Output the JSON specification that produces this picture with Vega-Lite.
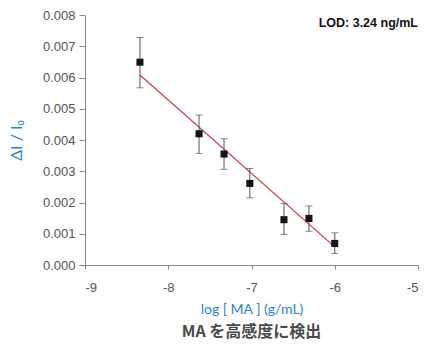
{
  "$schema": "https://vega.github.io/schema/vega-lite/v6.json",
  "autosize": {"type": "none"},
  "padding": {"left": 85, "top": 15, "right": 12, "bottom": 95},
  "width": 333,
  "height": 250,
  "background": "white",
  "title": {
    "text": "MA を高感度に検出",
    "orient": "bottom",
    "anchor": "middle",
    "font": "Noto Sans CJK JP",
    "fontSize": 16,
    "fontWeight": "bold",
    "color": "#4a4a4a",
    "offset": 8
  },
  "datasets": {
    "pts": [
      {"x": -8.34, "y": 0.00649, "lo": 0.00567, "hi": 0.00728},
      {"x": -7.63, "y": 0.00420, "lo": 0.00357, "hi": 0.00480},
      {"x": -7.33, "y": 0.00355, "lo": 0.00306, "hi": 0.00404},
      {"x": -7.02, "y": 0.00261, "lo": 0.00215, "hi": 0.00309},
      {"x": -6.61, "y": 0.00145, "lo": 0.00098, "hi": 0.00197},
      {"x": -6.31, "y": 0.00149, "lo": 0.00108, "hi": 0.00189},
      {"x": -6.00, "y": 0.00069, "lo": 0.00037, "hi": 0.00103}
    ],
    "fit": [
      {"x": -8.34, "y": 0.00608},
      {"x": -6.00, "y": 0.00058}
    ],
    "lod": [
      {"x": -5.0, "y": 0.00775, "label": "LOD: 3.24 ng/mL"}
    ]
  },
  "config": {
    "view": {"stroke": null},
    "axis": {
      "grid": false,
      "domainColor": "#8a8a8a",
      "tickColor": "#8a8a8a",
      "labelColor": "#555555",
      "labelFont": "Liberation Sans",
      "labelFontSize": 13,
      "labelOverlap": false,
      "titleFont": "Lato",
      "titleFontWeight": "normal",
      "titleColor": "#2a86c8"
    },
    "axisX": {
      "tickCount": 4,
      "labelExpr": "'' + datum.value",
      "titleFontSize": 14,
      "titlePadding": 8,
      "tickSize": 4,
      "labelPadding": 12
    },
    "axisY": {
      "tickCount": 8,
      "format": ".3f",
      "titleFontSize": 16,
      "titlePadding": 18,
      "tickSize": 6,
      "labelPadding": 4
    }
  },
  "layer": [
    {
      "data": {"name": "fit"},
      "mark": {"type": "line", "color": "#c9404f", "strokeWidth": 1.3},
      "encoding": {
        "x": {
          "field": "x",
          "type": "quantitative",
          "title": "log [ MA ] (g/mL)",
          "scale": {"domain": [-9, -5], "nice": false}
        },
        "y": {
          "field": "y",
          "type": "quantitative",
          "title": "ΔI / I₀",
          "scale": {"domain": [0, 0.008], "nice": false}
        }
      }
    },
    {
      "data": {"name": "pts"},
      "mark": {"type": "errorbar", "color": "#555555", "thickness": 1, "ticks": {"size": 7, "thickness": 1, "color": "#555555"}},
      "encoding": {
        "x": {"field": "x", "type": "quantitative", "title": "log [ MA ] (g/mL)"},
        "y": {"field": "lo", "type": "quantitative", "title": "ΔI / I₀"},
        "y2": {"field": "hi"}
      }
    },
    {
      "data": {"name": "pts"},
      "mark": {"type": "point", "shape": "square", "filled": true, "color": "#151515", "opacity": 1, "size": 50},
      "encoding": {
        "x": {"field": "x", "type": "quantitative", "title": "log [ MA ] (g/mL)"},
        "y": {"field": "y", "type": "quantitative", "title": "ΔI / I₀"}
      }
    },
    {
      "data": {"name": "lod"},
      "mark": {"type": "text", "align": "right", "baseline": "middle", "font": "Liberation Sans", "fontSize": 12.5, "fontWeight": "bold", "color": "#111111"},
      "encoding": {
        "x": {"field": "x", "type": "quantitative", "title": "log [ MA ] (g/mL)"},
        "y": {"field": "y", "type": "quantitative", "title": "ΔI / I₀"},
        "text": {"field": "label"}
      }
    }
  ]
}
